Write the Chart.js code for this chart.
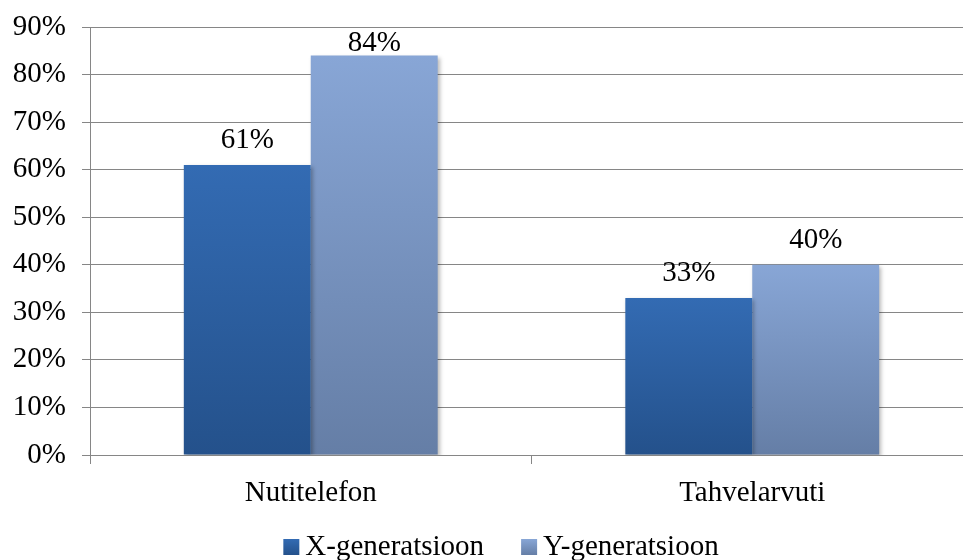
<!DOCTYPE html>
<html>
<head>
<meta charset="utf-8">
<script src="https://cdn.jsdelivr.net/npm/chart.js@4/dist/chart.umd.min.js"></script>
<style>
  html, body { margin: 0; padding: 0; background: #ffffff; overflow: hidden; }
  #wrap { position: relative; width: 975px; height: 560px; }
</style>
</head>
<body>
<div id="wrap"><canvas id="chart"></canvas></div>
<script>
// Device use by generation, percent of respondents
const categories = ['Nutitelefon', 'Tahvelarvuti'];
const seriesNames = ['X-generatsioon', 'Y-generatsioon'];
const xGeneration = [61, 33];
const yGeneration = [84, 40];
const yTicks = [0, 10, 20, 30, 40, 50, 60, 70, 80, 90];

const FONT = '"Liberation Serif", "Times New Roman", serif';
const FONT_SIZE = 29;
const GRID = '#868686';

// top / bottom colours of each series' vertical gradient
const palette = [
  { top: '#336BB3', bottom: '#24518B' },
  { top: '#88A6D6', bottom: '#657EA6' }
];

function barGradient(ctx, i) {
  const chart = ctx.chart;
  const y = chart.scales && chart.scales.y;
  if (!y || ctx.raw === undefined) return palette[i].top;
  const top = y.getPixelForValue(ctx.raw);
  const base = y.getPixelForValue(0);
  if (!isFinite(top) || !isFinite(base) || top === base) return palette[i].top;
  const g = chart.ctx.createLinearGradient(0, top, 0, base);
  g.addColorStop(0, palette[i].top);
  g.addColorStop(1, palette[i].bottom);
  return g;
}

// soft drop shadow under the bars
const barShadow = {
  id: 'barShadow',
  beforeDatasetsDraw(chart) {
    const c = chart.ctx;
    c.save();
    c.shadowColor = 'rgba(0,0,0,0.28)';
    c.shadowBlur = 4;
    c.shadowOffsetX = 2;
    c.shadowOffsetY = 2;
  },
  afterDatasetsDraw(chart) {
    chart.ctx.restore();
  }
};

// value labels above each bar
const valueLabels = {
  id: 'valueLabels',
  afterDatasetsDraw(chart) {
    const c = chart.ctx;
    const area = chart.chartArea;
    c.save();
    c.font = FONT_SIZE + 'px ' + FONT;
    c.fillStyle = '#000000';
    c.textAlign = 'center';
    c.textBaseline = 'alphabetic';
    chart.data.datasets.forEach((ds, di) => {
      chart.getDatasetMeta(di).data.forEach((bar, i) => {
        const yBase = Math.max(bar.y - 17, area.top + 24);
        c.fillText(ds.data[i] + '%', bar.x, yBase);
      });
    });
    c.restore();
  }
};

// legend row at the bottom: square swatch + series name
const bottomLegend = {
  id: 'bottomLegend',
  afterDraw(chart, args, opts) {
    const c = chart.ctx;
    c.save();
    c.font = FONT_SIZE + 'px ' + FONT;
    c.textBaseline = 'alphabetic';
    c.textAlign = 'left';
    const box = opts.boxSize, gap = opts.textGap, itemGap = opts.itemGap;
    const widths = chart.data.datasets.map(ds => box + gap + c.measureText(ds.label).width);
    const total = widths.reduce((a, b) => a + b, 0) + itemGap * (widths.length - 1);
    let x = opts.centerX - total / 2;
    const baseline = chart.height - opts.bottom;
    chart.data.datasets.forEach((ds, i) => {
      const g = c.createLinearGradient(0, baseline - box, 0, baseline);
      g.addColorStop(0, palette[i].top);
      g.addColorStop(1, palette[i].bottom);
      c.fillStyle = g;
      c.fillRect(x, baseline - box, box, box);
      c.fillStyle = '#000000';
      c.fillText(ds.label, x + box + gap, baseline);
      x += widths[i] + itemGap;
    });
    c.restore();
  }
};

new Chart(document.getElementById('chart'), {
  type: 'bar',
  data: {
    labels: categories,
    datasets: [
      { label: seriesNames[0], data: xGeneration, backgroundColor: ctx => barGradient(ctx, 0) },
      { label: seriesNames[1], data: yGeneration, backgroundColor: ctx => barGradient(ctx, 1) }
    ]
  },
  options: {
    responsive: true,
    maintainAspectRatio: false,
    animation: false,
    devicePixelRatio: 1,
    layout: { padding: { top: 27, right: 2, bottom: 0, left: 0 } },
    datasets: {
      bar: { categoryPercentage: 0.575, barPercentage: 1.0, borderWidth: 0 }
    },
    plugins: {
      legend: { display: false },
      tooltip: { enabled: false },
      bottomLegend: { boxSize: 16, textGap: 6, itemGap: 37, centerX: 501, bottom: 5 }
    },
    scales: {
      x: {
        afterFit(s) { s.height = 105; s.paddingLeft = 0; s.paddingRight = 0; },
        grid: {
          display: true,
          drawOnChartArea: false,
          offset: true,
          color: GRID,
          tickColor: GRID,
          tickLength: 9,
          lineWidth: 1
        },
        border: { display: true, color: GRID, width: 1 },
        ticks: {
          color: '#000000',
          font: { family: FONT, size: FONT_SIZE },
          padding: 12,
          maxRotation: 0,
          autoSkip: false
        }
      },
      y: {
        min: yTicks[0],
        max: yTicks[yTicks.length - 1],
        afterFit(s) { s.width = 90; s.paddingTop = 0; s.paddingBottom = 0; },
        afterBuildTicks(s) { s.ticks = yTicks.map(v => ({ value: v })); },
        grid: {
          color: GRID,
          tickColor: GRID,
          tickLength: 8,
          lineWidth: 1
        },
        border: { display: true, color: GRID, width: 1 },
        ticks: {
          color: '#000000',
          font: { family: FONT, size: FONT_SIZE },
          padding: 16,
          callback: v => v + '%'
        }
      }
    }
  },
  plugins: [barShadow, valueLabels, bottomLegend]
});
</script>
</body>
</html>
